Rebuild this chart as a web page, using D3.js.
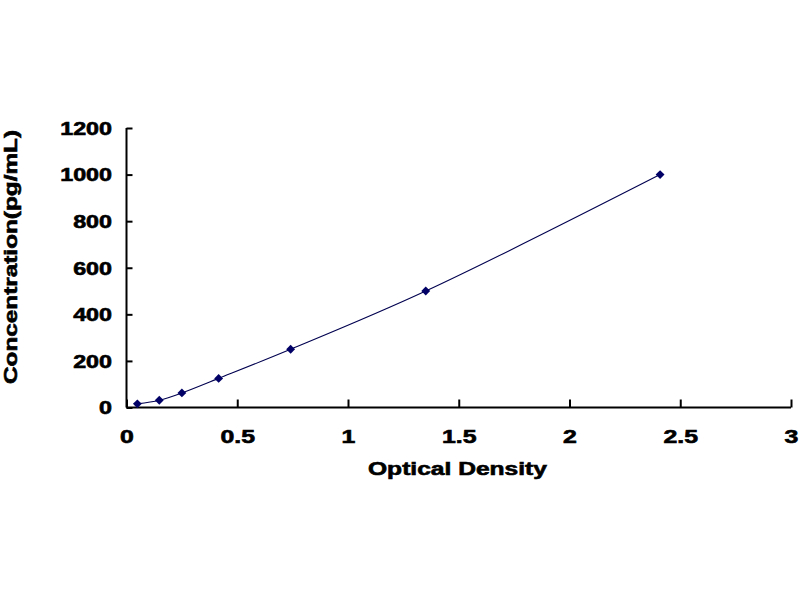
<!DOCTYPE html>
<html>
<head>
<meta charset="utf-8">
<script src="https://cdn.jsdelivr.net/npm/d3@7"></script>
<style>
  html, body { margin: 0; padding: 0; background: #fff; }
  svg { display: block; }
  text { font-family: "Liberation Sans", Arial, sans-serif; font-weight: bold; fill: #000; stroke: #000; stroke-width: 0.6px; }
</style>
</head>
<body>
<svg id="chart" width="800" height="600"></svg>
<script>
// Data
const opticalDensity = [0.049, 0.148, 0.250, 0.416, 0.741, 1.351, 2.409];
const concentration  = [15.6, 31.25, 62.5, 125, 250, 500, 1000];
const xTicks = [0, 0.5, 1, 1.5, 2, 2.5, 3];
const yTicks = [0, 200, 400, 600, 800, 1000, 1200];
const xTitle = "Optical Density";
const yTitle = "Concentration(pg/mL)";

const svg = d3.select("#chart");
const W = 800, H = 600;
svg.append("rect").attr("width", W).attr("height", H).attr("fill", "#fff");

const x = d3.scaleLinear().domain([0, 3]).range([126.5, 791]);
const y = d3.scaleLinear().domain([0, 1200]).range([407.5, 128]);

function widen(sel, k) {
  sel.each(function () {
    const len = this.getComputedTextLength();
    d3.select(this).attr("textLength", len * k).attr("lengthAdjust", "spacingAndGlyphs");
  });
}

// Y axis
const gy = svg.append("g").attr("transform", `translate(${x(0)},0)`)
  .call(d3.axisLeft(y).tickValues(yTicks).tickSize(-6).tickPadding(14.5).tickFormat(d3.format("d")));
gy.select(".domain").attr("stroke", "#000").attr("stroke-width", 2).attr("d", `M0,${y(1200)}V${y(0)}`);
gy.selectAll(".tick line").attr("stroke", "#000").attr("stroke-width", 2);
gy.selectAll(".tick text").attr("font-size", 17.5).attr("font-family", "Liberation Sans, Arial, sans-serif")
  .attr("font-weight", "bold").attr("dy", "0.36em").call(widen, 1.33);

// X axis
const gx = svg.append("g").attr("transform", `translate(0,${y(0)})`)
  .call(d3.axisBottom(x).tickValues(xTicks).tickSize(-8).tickFormat(d => String(d)));
gx.select(".domain").attr("stroke", "#000").attr("stroke-width", 2).attr("d", `M${x(0)},0H${x(3)}`);
gx.selectAll(".tick line").attr("stroke", "#000").attr("stroke-width", 2);
gx.selectAll(".tick text").attr("font-size", 18).attr("font-family", "Liberation Sans, Arial, sans-serif")
  .attr("font-weight", "bold").attr("y", 35.5).attr("dy", 0).call(widen, 1.38);

// Curve
const pts = opticalDensity.map((d, i) => [d, concentration[i]]);
const line = d3.line().x(d => x(d[0])).y(d => y(d[1])).curve(d3.curveCatmullRom.alpha(0.5));
svg.append("path").datum(pts).attr("d", line)
  .attr("fill", "none").attr("stroke", "#000050").attr("stroke-width", 1.1);

// Markers
const diamond = d3.symbol().type(d3.symbolDiamond2).size(50);
svg.append("g").selectAll("path").data(pts).join("path")
  .attr("transform", d => `translate(${x(d[0])},${y(d[1])})`)
  .attr("d", diamond).attr("fill", "#000066");

// Titles
svg.append("text").attr("x", 457.5).attr("y", 475).attr("text-anchor", "middle")
  .attr("font-size", 18).text(xTitle).attr("textLength", 179).attr("lengthAdjust", "spacingAndGlyphs");

svg.append("text").attr("transform", "translate(17,257) rotate(-90)").attr("text-anchor", "middle")
  .attr("font-size", 18).text(yTitle).attr("textLength", 254).attr("lengthAdjust", "spacingAndGlyphs");
</script>
</body>
</html>
